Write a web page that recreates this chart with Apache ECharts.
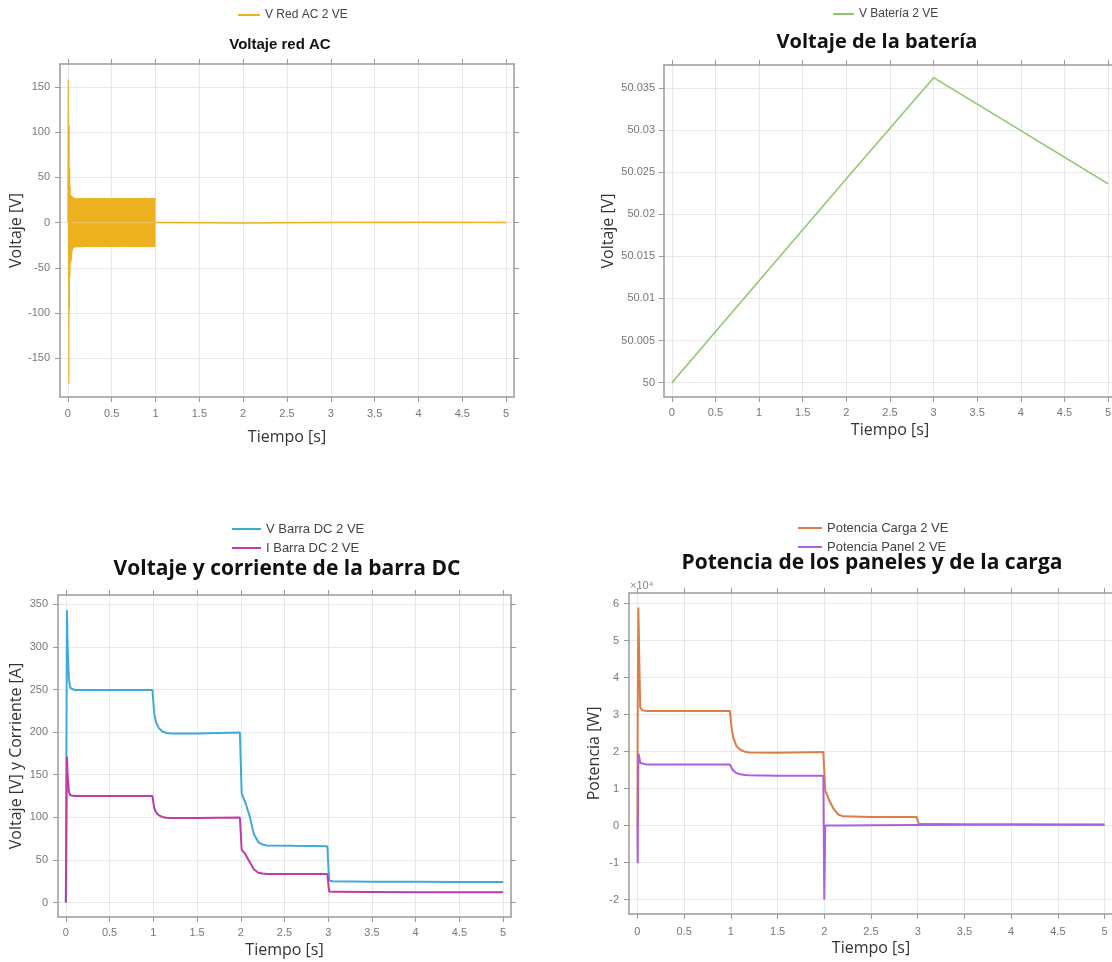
<!DOCTYPE html>
<html>
<head>
<meta charset="utf-8">
<title>Resultados 2 VE</title>
<script src="https://cdn.jsdelivr.net/npm/echarts@6/dist/echarts.min.js"></script>
<style>
  html, body { margin: 0; padding: 0; background: #fff; }
  #graficos { width: 1112px; height: 962px; }
</style>
</head>
<body>
<div id="graficos"></div>
<script>
// ==========================================================================
// DATOS

const timeTicks = [0, 0.5, 1, 1.5, 2, 2.5, 3, 3.5, 4, 4.5, 5];

// Voltaje red AC
const acTicks = [-150, -100, -50, 0, 50, 100, 150];
const acTransTime = [0, 0.004, 0.008, 0.011, 0.014, 0.017, 0.020, 0.023, 0.026, 0.029, 0.032, 0.035];
const acTransVolt = [0, 158, -20, -178, 108, -95, 60, -60, 40, -45, 30, -30];
const acBandTime = [0.035, 0.05, 0.07, 0.1, 0.2, 0.4, 0.6, 0.8, 1.0];
const acBandUpper = [30, 28, 27, 26.5, 26.5, 26.5, 26.5, 26.5, 26.5];
const acBandLower = [-43, -30, -27, -27, -26.5, -26.5, -26.5, -26.5, -26.5];
const acTailTime = [1.0, 2.0, 3.0, 4.0, 5.0];
const acTailVolt = [0, -0.4, 0, 0.3, 0];

// Voltaje de la bateria
const batTicks = [50, 50.005, 50.01, 50.015, 50.02, 50.025, 50.03, 50.035];
const batTime = [0, 1, 2, 3, 4, 5];
const batVolt = [50, 50.0121, 50.0242, 50.0362, 50.0299, 50.0236];

// Barra DC
const dcTicks = [0, 50, 100, 150, 200, 250, 300, 350];
const dcTime = [0, 0.012, 0.02, 0.035, 0.05, 0.1, 0.5, 0.99, 1.01, 1.03, 1.06, 1.1, 1.15, 1.2, 1.5, 1.99,
                2.01, 2.05, 2.1, 2.15, 2.2, 2.25, 2.3, 2.6, 2.99, 3.01, 3.05, 3.5, 4, 4.5, 5];
const dcVolt = [0, 343, 300, 262, 252, 249.5, 249.5, 249.5, 222, 212, 205, 201, 199, 198.5, 198.5, 199.5,
                128, 118, 102, 80, 71, 68, 67, 66.5, 66, 26, 25, 24.5, 24.5, 24, 24];
const dcCurr = [0, 171, 150, 130, 126, 125, 125, 125, 111, 106, 102.5, 100.5, 99.5, 99.3, 99.3, 99.8,
                62, 57, 48, 39, 35, 34, 33.5, 33.5, 33.5, 13, 12.5, 12.3, 12.2, 12, 12];

// Potencia
const powTicks = [-20000, -10000, 0, 10000, 20000, 30000, 40000, 50000, 60000];
const powTime = [0, 0.003, 0.01, 0.02, 0.03, 0.05, 0.1, 0.5, 0.99, 1.01, 1.03, 1.06, 1.1, 1.15, 1.2, 1.5,
                 1.99, 2.0, 2.01, 2.05, 2.1, 2.15, 2.2, 2.5, 2.99, 3.01, 3.5, 4, 4.5, 5];
const powCarga = [0, 30000, 59000, 45000, 32000, 31200, 31000, 31000, 31000, 26000, 23500, 21500, 20500, 20000,
                  19800, 19700, 19900, 19900, 9500, 7000, 4500, 3000, 2500, 2300, 2300, 500, 400, 350, 300, 300];
const powPanel = [0, -10200, 19500, 18500, 17000, 16700, 16500, 16500, 16500, 15500, 14800, 14200, 13900, 13700,
                  13600, 13500, 13500, -20000, 0, 0, 0, 0, 0, 100, 150, 200, 200, 200, 200, 200];

// ==========================================================================
// ESTILOS

const frameColor = '#9a9a9a';
const gridColor = '#e8e8e8';
const labelFont = 'Liberation Sans';
const nameFont = 'Open Sans';

const acName = 'V Red AC 2 VE';
const batName = 'V Batería 2 VE';
const dcVName = 'V Barra DC 2 VE';
const dcIName = 'I Barra DC 2 VE';
const cargaName = 'Potencia Carga 2 VE';
const panelName = 'Potencia Panel 2 VE';

const acColor = '#EDB120';
const batColor = '#8DC66B';
const dcVColor = '#3FA9DA';
const dcIColor = '#C23AA8';
const cargaColor = '#DD7C47';
const panelColor = '#AD5FDC';

function pairs(xs, ys) {
  return xs.map(function (x, i) { return [x, ys[i]]; });
}

function fmtNum(v) {
  return String(Math.round(v * 10000) / 10000);
}

function ejeX(gridIndex, nameGap, labelMargin) {
  const base = {
    type: 'value',
    gridIndex: gridIndex,
    min: -0.09,
    max: 5.09,
    axisLine: {show: true, onZero: false, lineStyle: {color: frameColor, width: 1.5}},
    axisTick: {show: true, inside: false, length: 5, customValues: timeTicks, lineStyle: {color: frameColor, width: 1}}
  };
  return [
    Object.assign({}, base, {
      position: 'bottom',
      name: 'Tiempo [s]',
      nameLocation: 'middle',
      nameGap: nameGap,
      nameTextStyle: {fontFamily: nameFont, fontSize: 16, color: '#333'},
      axisLabel: {customValues: timeTicks, formatter: fmtNum, margin: labelMargin,
                  fontFamily: labelFont, fontSize: 11, color: '#777'},
      splitLine: {show: true, lineStyle: {color: gridColor, width: 1}}
    }),
    Object.assign({}, base, {
      position: 'top',
      axisLabel: {show: false},
      splitLine: {show: false}
    })
  ];
}

function ejeY(gridIndex, min, max, ticks, name, nameGap, labelMargin, formatter) {
  const base = {
    type: 'value',
    gridIndex: gridIndex,
    min: min,
    max: max,
    axisLine: {show: true, onZero: false, lineStyle: {color: frameColor, width: 1.5}},
    axisTick: {show: true, inside: false, length: 5, customValues: ticks, lineStyle: {color: frameColor, width: 1}}
  };
  return [
    Object.assign({}, base, {
      position: 'left',
      name: name,
      nameLocation: 'middle',
      nameGap: nameGap,
      nameTextStyle: {fontFamily: nameFont, fontSize: 16, color: '#333'},
      axisLabel: {customValues: ticks, formatter: formatter || fmtNum, margin: labelMargin,
                  fontFamily: labelFont, fontSize: 11, color: '#777'},
      splitLine: {show: true, lineStyle: {color: gridColor, width: 1}}
    }),
    Object.assign({}, base, {
      position: 'right',
      axisLabel: {show: false},
      splitLine: {show: false}
    })
  ];
}

function linea(name, data, color, xi, width) {
  return {
    name: name,
    type: 'line',
    xAxisIndex: xi,
    yAxisIndex: xi,
    data: data,
    symbol: 'none',
    showSymbol: false,
    color: color,
    lineStyle: {color: color, width: width || 1.5},
    emphasis: {disabled: true}
  };
}

function leyenda(names, left, top, fontSize, itemWidth) {
  return {
    data: names,
    orient: 'vertical',
    left: left,
    top: top,
    padding: 0,
    itemGap: 3,
    icon: 'rect',
    itemWidth: itemWidth,
    itemHeight: 2,
    selectedMode: false,
    textStyle: {fontFamily: 'Liberation Sans', fontSize: fontSize, color: '#444', lineHeight: 16}
  };
}

function titulo(text, x, y, font) {
  return {
    type: 'text',
    x: x,
    y: y,
    style: {text: text, font: font, fill: '#111', textAlign: 'center', textVerticalAlign: 'middle',
            align: 'center', verticalAlign: 'middle'}
  };
}

// ==========================================================================
// GRAFICO

const graficos = echarts.init(document.getElementById('graficos'), null, {renderer: 'canvas'});

// banda AC: envolventes rellenas hasta 0
const bandaSup = linea(acName, pairs(acBandTime, acBandUpper), acColor, 0, 1);
bandaSup.areaStyle = {color: acColor, opacity: 1};
const bandaInf = linea(acName, pairs(acBandTime, acBandLower), acColor, 0, 1);
bandaInf.areaStyle = {color: acColor, opacity: 1};

const option = {
  animation: false,
  backgroundColor: '#fff',
  grid: [
    {left: 60, top: 64, width: 454, height: 333, outerBoundsMode: 'none'},
    {left: 664, top: 65, width: 452, height: 332, outerBoundsMode: 'none'},
    {left: 58, top: 595, width: 453, height: 322, outerBoundsMode: 'none'},
    {left: 629, top: 593, width: 484, height: 321, outerBoundsMode: 'none'}
  ],
  xAxis: [].concat(
    ejeX(0, 32, 11),
    ejeX(1, 25, 10),
    ejeX(2, 25, 10),
    ejeX(3, 26, 12)
  ),
  yAxis: [].concat(
    ejeY(0, -192.7, 175.2, acTicks, 'Voltaje [V]', 30, 10),
    ejeY(1, 49.9983, 50.0377, batTicks, 'Voltaje [V]', 48, 9),
    ejeY(2, -17, 361, dcTicks, 'Voltaje [V] y Corriente [A]', 34, 10),
    ejeY(3, -23900, 62900, powTicks, 'Potencia [W]', 27, 10, function (v) { return String(v / 10000); })
  ),
  legend: [
    leyenda([acName], 238, 7, 12, 22),
    leyenda([batName], 833, 6, 12, 21),
    leyenda([dcVName, dcIName], 232, 521, 13, 29),
    leyenda([cargaName, panelName], 798, 520, 13, 24)
  ],
  graphic: [
    titulo('Voltaje red AC', 280, 45, 'bold 15px "Liberation Sans"'),
    titulo('Voltaje de la batería', 877, 42, 'bold 20px "Open Sans"'),
    titulo('Voltaje y corriente de la barra DC', 287, 569, 'bold 21px "Open Sans"'),
    titulo('Potencia de los paneles y de la carga', 872, 563, 'bold 21px "Open Sans"'),
    {
      type: 'text',
      x: 630,
      y: 586,
      style: {text: '×10⁴', font: '11px "Liberation Sans"', fill: '#888',
              textVerticalAlign: 'middle', verticalAlign: 'middle'}
    }
  ],
  series: [
    bandaSup,
    bandaInf,
    linea(acName, pairs(acTransTime, acTransVolt), acColor, 0, 1.2),
    linea(acName, pairs(acTailTime, acTailVolt), acColor, 0, 1.5),

    linea(batName, pairs(batTime, batVolt), batColor, 2, 1.5),

    linea(dcVName, pairs(dcTime, dcVolt), dcVColor, 4, 2),
    linea(dcIName, pairs(dcTime, dcCurr), dcIColor, 4, 2),

    linea(cargaName, pairs(powTime, powCarga), cargaColor, 6, 2),
    linea(panelName, pairs(powTime, powPanel), panelColor, 6, 2)
  ]
};

graficos.setOption(option);
</script>
</body>
</html>
